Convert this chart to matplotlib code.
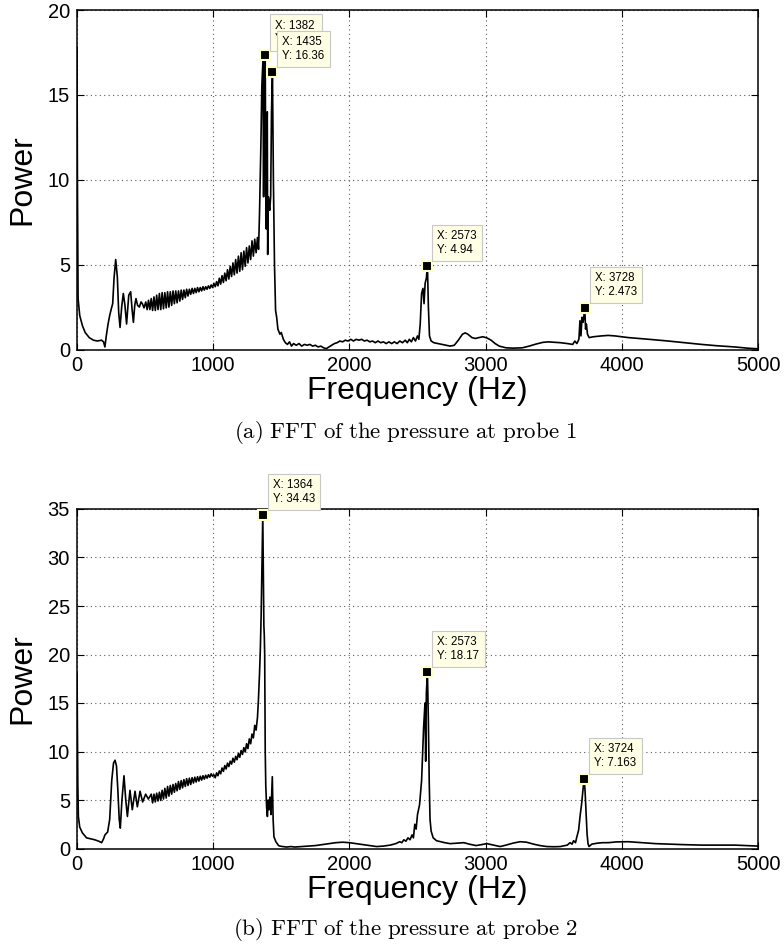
import matplotlib
matplotlib.use("Agg")
import matplotlib.pyplot as plt

plt.rcParams['font.family'] = ['Liberation Sans', 'DejaVu Sans']
plt.rcParams['mathtext.fontset'] = 'cm'

# ---------------- data: probe 1 ----------------
freq_a = [0, 3, 8, 20, 40, 60, 90, 120, 150, 180, 195, 205, 215, 228, 240, 252, 262, 272, 284, 296,
          306, 316, 328, 340, 352, 364, 380, 394, 404, 414, 424, 433, 445, 458, 470, 480, 492,
          505, 515, 525, 535, 545, 555, 565, 575, 585, 595, 605, 615, 625, 635, 645, 655, 665, 675,
          685, 695, 705, 715, 725, 735, 745, 755, 765, 775, 785, 795, 805, 815, 825, 835, 845, 855,
          865, 875, 885, 895, 905, 915, 925, 935, 945, 955, 965, 975, 985, 995,
          1005, 1015, 1025, 1035, 1045, 1055, 1065, 1075, 1085, 1095, 1105, 1115, 1125, 1135, 1145,
          1155, 1165, 1175, 1185, 1195, 1205, 1215, 1225, 1235, 1245, 1255, 1265, 1275, 1285, 1295,
          1305, 1315, 1325, 1333,
          1340, 1350, 1357, 1365, 1370, 1375, 1382, 1386, 1390, 1393, 1397, 1400, 1405, 1410, 1415,
          1422, 1428, 1435, 1442, 1450, 1458, 1466, 1475, 1490, 1500, 1515, 1530,
          1545, 1560, 1575, 1590, 1610, 1630, 1650, 1670, 1690, 1710, 1730, 1750, 1770, 1790, 1810,
          1830, 1850, 1870, 1890, 1910, 1930, 1950, 1970, 1990, 2010, 2030, 2050, 2070, 2090, 2110,
          2130, 2150, 2170, 2190, 2210, 2230, 2250, 2270, 2290, 2310, 2330, 2350, 2370, 2390, 2410,
          2425, 2440, 2455, 2470, 2485, 2500, 2510, 2520, 2530, 2540, 2548, 2556, 2565, 2573, 2580,
          2588, 2600, 2620, 2650, 2680, 2710, 2740, 2770, 2800, 2830, 2850, 2870, 2900, 2925, 2950,
          2980, 3010, 3040, 3070, 3100, 3150, 3200, 3270, 3320, 3370, 3420, 3460, 3500, 3550, 3600,
          3640, 3655, 3670, 3685, 3693, 3700, 3708, 3716, 3722, 3728, 3734, 3740, 3748, 3760, 3790,
          3850, 3900, 3950, 4050, 4200, 4340, 4460, 4585, 4700, 4830, 4920, 5000]
power_a = [17.8, 10.0, 3.0, 2.0, 1.4, 1.0, 0.7, 0.55, 0.5, 0.55, 0.45, 0.15, 0.8, 1.5, 2.0, 2.4, 2.7, 4.2, 5.3, 4.3,
           2.2, 1.3, 2.5, 3.3, 2.6, 1.5, 3.2, 3.4, 2.4, 1.6, 2.6, 3.0, 2.6, 2.5, 2.8, 2.7, 2.45,
           2.8, 2.35, 2.9, 2.35, 3.0, 2.3, 3.1, 2.3, 3.2, 2.35, 3.3, 2.35, 3.35, 2.4, 3.35, 2.45, 3.4, 2.5,
           3.4, 2.6, 3.45, 2.7, 3.45, 2.75, 3.45, 2.85, 3.5, 2.95, 3.5, 3.05, 3.55, 3.15, 3.55, 3.25, 3.6, 3.3,
           3.6, 3.35, 3.65, 3.4, 3.65, 3.45, 3.7, 3.5, 3.7, 3.55, 3.75, 3.6, 3.8, 3.65,
           3.9, 3.7, 4.0, 3.75, 4.2, 3.85, 4.35, 3.95, 4.5, 4.05, 4.7, 4.15, 4.9, 4.3, 5.1,
           4.4, 5.3, 4.5, 5.5, 4.6, 5.7, 4.7, 5.8, 4.9, 6.0, 5.1, 6.1, 5.3, 6.4, 5.5,
           6.5, 5.7, 6.6, 5.9,
           8.0, 12.0, 15.5, 17.0, 9.0, 16.5, 17.33, 9.0, 7.1, 12.0, 14.0, 5.6, 9.0, 8.5, 8.2,
           9.0, 14.0, 16.36, 10.0, 5.0, 2.3, 1.9, 1.2, 0.9, 1.0, 0.6, 0.4,
           0.3, 0.45, 0.2, 0.35, 0.25, 0.35, 0.2, 0.3, 0.25, 0.3, 0.2, 0.25, 0.15, 0.2, 0.1,
           0.05, 0.15, 0.25, 0.35, 0.4, 0.5, 0.45, 0.55, 0.5, 0.6, 0.5, 0.6, 0.55, 0.6, 0.5,
           0.55, 0.45, 0.5, 0.4, 0.5, 0.4, 0.45, 0.35, 0.45, 0.35, 0.45, 0.35, 0.5, 0.4, 0.55,
           0.4, 0.6, 0.45, 0.7, 0.5, 0.8, 0.6, 1.5, 3.3, 3.6, 2.7, 3.9, 4.2, 4.94, 2.5,
           0.8, 0.5, 0.4, 0.35, 0.3, 0.25, 0.2, 0.25, 0.55, 0.9, 0.98, 0.9, 0.7, 0.65, 0.7,
           0.75, 0.68, 0.55, 0.35, 0.2, 0.1, 0.08, 0.1, 0.2, 0.32, 0.42, 0.45, 0.43, 0.4, 0.35,
           0.3, 0.5, 0.35, 0.6, 1.7, 0.8, 1.9, 1.6, 2.0, 2.473, 1.2, 1.5, 0.9, 0.7, 0.75,
           0.8, 0.83, 0.8, 0.7, 0.6, 0.5, 0.4, 0.3, 0.22, 0.15, 0.08, 0.04]

# ---------------- data: probe 2 ----------------
freq_b = [0, 3, 6, 10, 20, 40, 70, 100, 130, 160, 181, 195, 205, 225, 240, 255, 268, 279, 290, 300,
          310, 318, 330, 345, 358, 370, 389, 406, 426, 443, 463, 482, 504, 524,
          545, 555, 565, 575, 585, 595, 605, 615, 625, 635, 645, 655, 665, 675, 685, 695, 705, 715,
          725, 735, 745, 755, 765, 775, 785, 795, 805, 815, 825, 835, 845, 855, 865, 875, 885, 895,
          905, 915, 925, 935, 945, 955, 965, 975, 985, 995,
          1005, 1015, 1025, 1035, 1045, 1055, 1065, 1075, 1085, 1095, 1105, 1115, 1125, 1135, 1145,
          1155, 1165, 1175, 1185, 1195, 1205, 1215, 1225, 1235, 1245, 1255, 1265, 1275, 1285, 1295,
          1305, 1315, 1325, 1332, 1340, 1346, 1352, 1358, 1364, 1368, 1372, 1375, 1378, 1382, 1386,
          1392, 1398, 1404, 1410, 1417, 1424, 1434, 1440, 1446, 1452, 1460, 1470, 1480,
          1490, 1510, 1540, 1570, 1600, 1650, 1700, 1750, 1800, 1850, 1900, 1950, 2000, 2050, 2100,
          2150, 2200, 2250, 2300, 2340, 2370, 2385, 2400, 2415, 2430, 2445, 2460, 2470, 2480, 2490,
          2500, 2515, 2530, 2545, 2555, 2560, 2565, 2573, 2580, 2586, 2592, 2600, 2615, 2640, 2670,
          2700, 2740, 2790, 2840, 2880, 2930, 2970, 3010, 3060, 3107, 3150, 3200, 3254, 3300, 3352,
          3400, 3450, 3500, 3548, 3600, 3620, 3635, 3646, 3660, 3670, 3683, 3695, 3705, 3712, 3718,
          3724, 3730, 3738, 3745, 3752, 3759, 3780, 3820, 3860, 3901, 3960, 4048, 4150, 4250, 4341,
          4450, 4586, 4700, 4830, 4920, 5000]
power_b = [18.1, 12.0, 6.7, 3.3, 2.2, 1.6, 1.1, 1.0, 0.9, 0.75, 0.6, 1.0, 1.4, 1.7, 3.0, 7.0, 8.8, 9.1, 8.5, 6.0,
           3.0, 2.1, 5.0, 7.5, 5.0, 3.3, 6.0, 4.0, 5.9, 4.3, 5.9, 4.8, 5.6, 5.1,
           5.6, 4.7, 5.6, 4.8, 5.7, 4.9, 5.8, 4.95, 6.0, 5.1, 6.2, 5.2, 6.4, 5.4, 6.5, 5.6, 6.6, 5.8,
           6.7, 5.95, 6.9, 6.1, 7.0, 6.25, 7.1, 6.4, 7.2, 6.5, 7.25, 6.6, 7.3, 6.75, 7.35, 6.85, 7.4, 6.95,
           7.45, 7.05, 7.5, 7.15, 7.55, 7.25, 7.6, 7.35, 7.7, 7.45,
           7.6, 7.3, 7.8, 7.5, 8.0, 7.7, 8.3, 7.95, 8.55, 8.2, 8.8, 8.45, 9.0, 8.7, 9.3,
           8.9, 9.5, 9.15, 9.8, 9.4, 10.1, 9.7, 10.4, 9.95, 10.8, 10.3, 11.3, 10.8, 11.8, 11.4,
           12.7, 12.2, 13.5, 15.3, 18.0, 20.5, 24.0, 29.0, 34.43, 29.0, 23.0, 22.0, 20.0, 10.0, 6.5,
           4.3, 3.3, 5.0, 4.0, 5.3, 3.5, 7.4, 3.0, 1.2, 1.0, 0.7, 0.5, 0.3,
           0.25, 0.2, 0.15, 0.2, 0.15, 0.2, 0.25, 0.3, 0.4, 0.5, 0.6, 0.65, 0.6, 0.5, 0.4,
           0.3, 0.2, 0.25, 0.35, 0.5, 0.7, 0.6, 0.9, 0.75, 1.1, 0.9, 1.4, 1.1, 2.5, 2.0,
           3.5, 4.5, 7.0, 12.5, 15.0, 9.0, 16.0, 18.17, 13.0, 7.0, 3.0, 1.8, 1.1, 0.8, 0.7,
           0.6, 0.5, 0.55, 0.6, 0.45, 0.3, 0.4, 0.5, 0.35, 0.2, 0.35, 0.55, 0.7, 0.65, 0.45,
           0.3, 0.2, 0.18, 0.2, 0.35, 0.6, 0.45, 0.8, 0.6, 1.2, 1.9, 3.5, 4.6, 5.6, 6.5,
           7.163, 6.0, 3.5, 1.5, 0.5, 0.2, 0.45, 0.55, 0.6, 0.6, 0.68, 0.7, 0.6, 0.5, 0.45,
           0.4, 0.35, 0.35, 0.35, 0.3, 0.25]

# data tips
tips_a_x = [1382, 1435, 2573, 3728]
tips_a_y = [17.33, 16.36, 4.94, 2.473]
tips_b_x = [1364, 2573, 3724]
tips_b_y = [34.43, 18.17, 7.163]

xticks = [0, 1000, 2000, 3000, 4000, 5000]
yticks_a = [0, 5, 10, 15, 20]
yticks_b = [0, 5, 10, 15, 20, 25, 30, 35]

captions = [r'$\mathrm{(a)\ FFT\ of\ the\ pressure\ at\ probe\ 1}$',
            r'$\mathrm{(b)\ FFT\ of\ the\ pressure\ at\ probe\ 2}$']

W, H = 784, 947
fig = plt.figure(figsize=(W / 100, H / 100), dpi=100)

def px_box(left, top, right, bottom):
    return [left / W, 1 - bottom / H, (right - left) / W, (bottom - top) / H]

ax_a = fig.add_axes(px_box(77, 10, 758, 349.5))
ax_b = fig.add_axes(px_box(77, 509, 758, 848.5))

def style(ax, f, p, yticks, ymax, tx, ty):
    ax.plot(f, p, color='k', lw=1.2, zorder=3)
    ax.set_xlim(0, 5000)
    ax.set_ylim(0, ymax)
    ax.set_xticks(xticks)
    ax.set_yticks(yticks)
    ax.tick_params(direction='in', top=True, right=True, length=5, width=0.8,
                   labelsize=14.5, pad=5)
    ax.grid(True, linestyle=(0, (1, 3)), color='0.35', lw=0.8)
    for s in ax.spines.values():
        s.set_linewidth(1.1)
    ax.set_xlabel('Frequency (Hz)', fontsize=23)
    ax.set_ylabel('Power', fontsize=23)
    ax.xaxis.set_label_coords(0.5, -0.077)
    ax.yaxis.set_label_coords(-0.058, 0.5)
    for i, (x, y) in enumerate(zip(tx, ty)):
        ax.plot([x], [y], 's', ms=7, mfc='k', mec='#FFFFC8', mew=1.5,
                clip_on=False, zorder=5 + 2 * i)
        ax.annotate('X: {}\nY: {:.4g}'.format(x, y), xy=(x, y), xytext=(10, 10),
                    textcoords='offset pixels', ha='left', va='bottom',
                    fontsize=8.3, linespacing=1.2,
                    bbox=dict(boxstyle='square,pad=0.45', fc='#FFFFE6',
                              ec='#C8C8C8', lw=0.8),
                    annotation_clip=False, zorder=6 + 2 * i)

style(ax_a, freq_a, power_a, yticks_a, 20, tips_a_x, tips_a_y)
style(ax_b, freq_b, power_b, yticks_b, 35, tips_b_x, tips_b_y)

fig.text(405.5 / W, 1 - 433 / H, captions[0], ha='center', va='center', fontsize=16.5)
fig.text(405.5 / W, 1 - 929 / H, captions[1], ha='center', va='center', fontsize=16.5)

fig.savefig('out.png', dpi=100)
